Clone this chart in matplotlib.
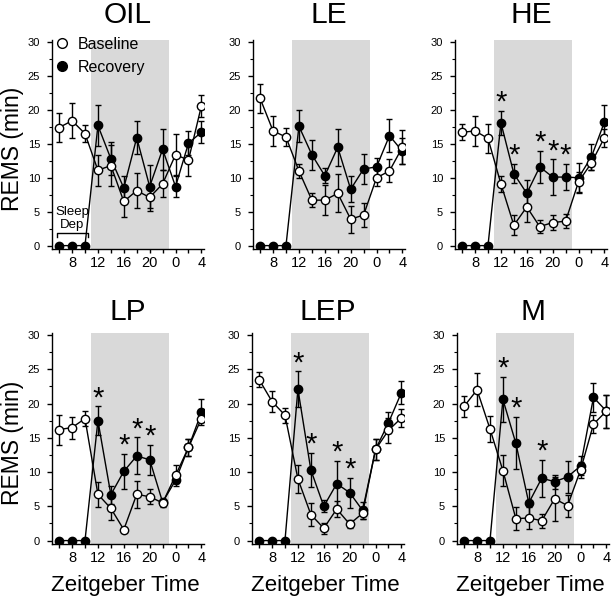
import matplotlib
matplotlib.use("Agg")
import matplotlib.pyplot as plt
from matplotlib.lines import Line2D
import numpy as np

plt.rcParams['font.family'] = ['Liberation Sans', 'DejaVu Sans']

# ---- data ----
zt = [6, 8, 10, 12, 14, 16, 18, 20, 22, 24, 26, 28]
xtick_pos = [8, 12, 16, 20, 24, 28]
xtick_labels = ["8", "12", "16", "20", "0", "4"]
titles = ["OIL", "LE", "HE", "LP", "LEP", "M"]

base_oil = [17.4, 18.4, 16.5, 11.1, 11.8, 6.5, 8.1, 7.1, 9.1, 13.4, 12.6, 20.6]
base_oil_err = [2.2, 2.6, 1.3, 2.3, 3.0, 2.3, 2.6, 2.0, 2.0, 3.0, 2.3, 1.6]
rec_oil = [0, 0, 0, 17.7, 12.8, 8.5, 15.9, 8.7, 14.2, 8.7, 15.1, 16.7]
rec_oil_err = [0, 0, 0, 3.0, 2.4, 1.7, 2.4, 3.2, 3.0, 1.5, 1.8, 1.6]

base_le = [21.7, 16.9, 16.0, 11.0, 6.7, 6.7, 7.7, 3.9, 4.5, 10.0, 11.0, 14.5]
base_le_err = [2.1, 2.2, 1.3, 1.0, 1.0, 2.2, 2.8, 2.0, 1.8, 1.2, 1.7, 2.5]
rec_le = [0, 0, 0, 17.6, 13.4, 10.3, 14.5, 8.3, 11.3, 11.6, 16.2, 13.9]
rec_le_err = [0, 0, 0, 2.4, 2.2, 1.1, 2.7, 1.9, 2.2, 1.3, 2.4, 1.9]

base_he = [16.7, 16.9, 15.8, 9.1, 3.0, 5.7, 2.8, 3.4, 3.6, 9.4, 12.2, 15.9]
base_he_err = [1.2, 2.2, 2.1, 1.2, 1.5, 2.2, 1.0, 1.1, 1.0, 1.5, 1.0, 1.3]
rec_he = [0, 0, 0, 18.1, 10.6, 7.7, 11.6, 10.1, 10.1, 10.0, 13.1, 18.2]
rec_he_err = [0, 0, 0, 1.8, 1.4, 2.0, 2.4, 2.6, 1.9, 2.2, 1.9, 2.5]

base_lp = [16.2, 16.5, 17.8, 6.75, 4.7, 1.6, 6.75, 6.4, 5.5, 9.5, 13.6, 17.8]
base_lp_err = [2.2, 1.6, 1.1, 1.8, 1.7, 0.4, 2.0, 1.1, 0.6, 1.6, 1.3, 0.5]
rec_lp = [0, 0, 0, 17.5, 6.7, 10.1, 12.35, 11.8, 5.6, 8.8, 13.6, 18.7]
rec_lp_err = [0, 0, 0, 2.1, 1.3, 2.5, 2.7, 2.2, 0.4, 0.4, 1.3, 1.9]

base_lep = [23.5, 20.3, 18.3, 9.0, 3.8, 1.8, 4.6, 2.4, 4.0, 13.3, 16.1, 17.9]
base_lep_err = [1.1, 1.6, 1.1, 2.0, 1.7, 0.8, 1.2, 0.6, 0.9, 1.5, 1.8, 1.3]
rec_lep = [0, 0, 0, 22.1, 10.3, 5.0, 8.3, 7.0, 4.4, 13.3, 17.2, 21.6]
rec_lep_err = [0, 0, 0, 2.6, 2.5, 0.9, 3.3, 2.2, 1.2, 1.5, 1.5, 1.7]

base_m = [19.6, 22.0, 16.3, 10.2, 3.2, 3.3, 2.9, 6.1, 5.1, 10.3, 17.0, 18.9]
base_m_err = [1.5, 2.4, 1.9, 2.3, 1.7, 1.6, 1.0, 3.2, 1.6, 1.2, 1.3, 2.4]
rec_m = [0, 0, 0, 20.6, 14.2, 5.5, 9.1, 8.6, 9.3, 10.9, 20.9, 18.9]
rec_m_err = [0, 0, 0, 3.3, 3.8, 2.1, 2.7, 1.0, 2.3, 1.4, 2.1, 2.4]

sig_oil = []
sig_le = []
sig_he = [12, 14, 18, 20, 22]
sig_lp = [12, 16, 18, 20]
sig_lep = [12, 14, 18, 20]
sig_m = [12, 14, 18]

panels = [
    (base_oil, base_oil_err, rec_oil, rec_oil_err, sig_oil),
    (base_le, base_le_err, rec_le, rec_le_err, sig_le),
    (base_he, base_he_err, rec_he, rec_he_err, sig_he),
    (base_lp, base_lp_err, rec_lp, rec_lp_err, sig_lp),
    (base_lep, base_lep_err, rec_lep, rec_lep_err, sig_lep),
    (base_m, base_m_err, rec_m, rec_m_err, sig_m),
]

W, H = 611, 596
fig = plt.figure(figsize=(W / 100, H / 100), dpi=100)

# pixel layout (left, top, bottom)
lefts = [52, 253, 455, 52, 252, 457]
tops = [40, 40, 40, 333, 333, 333]
bottoms = [249, 249, 249, 544, 544, 544]
title_base = [23, 23, 23, 320, 320, 320]
width_px = 152
MS = 6

for i, (b, be, r, re, sig) in enumerate(panels):
    l, t, bt = lefts[i], tops[i], bottoms[i]
    ax = fig.add_axes([l / W, 1 - bt / H, width_px / W, (bt - t) / H])
    ax.axvspan(11, 23, color='#d9d9d9', lw=0, zorder=0)
    ax.errorbar(zt, r, yerr=re, fmt='-o', color='black', mfc='black', mec='black',
                ms=MS, lw=1, elinewidth=1, capsize=2.2, capthick=1, zorder=3)
    ax.errorbar(zt, b, yerr=be, fmt='-o', color='black', mfc='white', mec='black',
                ms=MS, lw=1, mew=1, elinewidth=1, capsize=2.2, capthick=1, zorder=4)
    for s in sig:
        k = zt.index(s)
        ax.text(s, r[k] + re[k] + 1.2, '*', ha='center', va='center', fontsize=21)
    ax.set_xlim(4.9, 28.4)
    ax.set_ylim(-0.5, 30.3)
    ax.set_xticks(np.arange(6, 29, 2), minor=True)
    ax.set_xticks(xtick_pos)
    ax.set_xticklabels(xtick_labels, fontsize=10.5)
    ax.set_yticks(np.arange(0, 31, 5))
    ax.set_yticks(np.arange(0, 31, 2.5), minor=True)
    ax.tick_params(axis='y', labelsize=8, length=3.5, width=1, pad=5)
    ax.tick_params(axis='y', which='minor', length=2, width=0.8)
    ax.tick_params(axis='x', which='both', length=3, width=1, pad=2)
    for sp in ['top', 'right']:
        ax.spines[sp].set_visible(False)
    for sp in ['left', 'bottom']:
        ax.spines[sp].set_linewidth(1)
    fig.text((l + width_px / 2) / W, 1 - title_base[i] / H, titles[i],
             ha='center', va='baseline', fontsize=21.5)
    if i in (0, 3):
        fig.text(13 / W, 1 - ((t + bt) / 2 + 4) / H, 'REMS (min)', rotation=90,
                 ha='center', va='center', fontsize=16.5)
    if i >= 3:
        fig.text((l + width_px / 2 - 3) / W, 1 - 591 / H, 'Zeitgeber Time',
                 ha='center', va='baseline', fontsize=16)
    if i == 0:
        handles = [Line2D([], [], ls='none', marker='o', ms=MS + 1, mfc='white', mec='black', mew=1),
                   Line2D([], [], ls='none', marker='o', ms=MS + 1, mfc='black', mec='black')]
        ax.legend(handles, ['Baseline', 'Recovery'], loc='upper left', frameon=False,
                  fontsize=11.5, handlelength=0.8, handletextpad=0.6, borderaxespad=0.0,
                  bbox_to_anchor=(-0.02, 1.045), labelspacing=0.5)
        # sleep deprivation bracket
        ax.plot([5.6, 5.6, 10.4, 10.4], [1.2, 1.9, 1.9, 1.2], color='black', lw=1)
        ax.text(8.0, 5.0, 'Sleep', ha='center', va='center', fontsize=9.5)
        ax.text(8.0, 3.0, 'Dep', ha='center', va='center', fontsize=9.5)

fig.savefig('out.png', dpi=100)
